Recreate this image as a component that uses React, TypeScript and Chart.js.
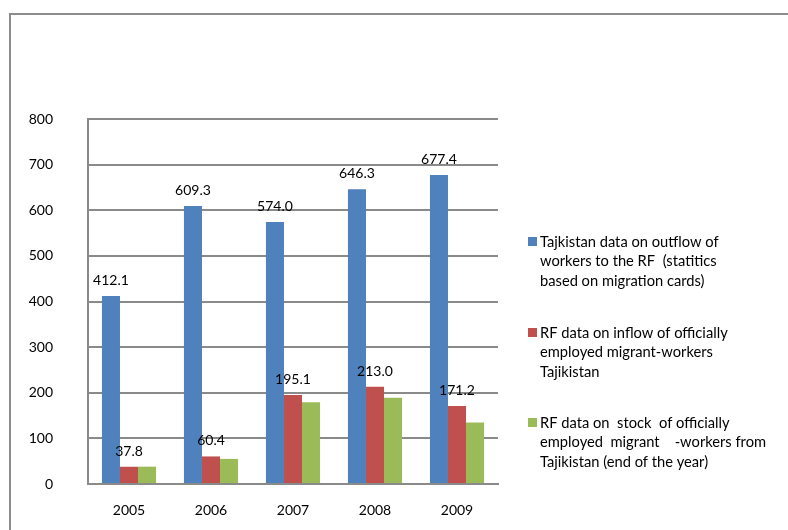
import React, { useEffect, useRef } from "react";
import { Chart, registerables } from "chart.js";

Chart.register(...registerables);

const categories = ["2005", "2006", "2007", "2008", "2009"];
const outflowTJ = [412.1, 609.3, 574.0, 646.3, 677.4];
const inflowRF = [37.8, 60.4, 195.1, 213.0, 171.2];
const stockRF = [38, 55, 179, 189, 135];
const yTicks = [0, 100, 200, 300, 400, 500, 600, 700, 800];

const seriesNames = [
  ["Tajkistan data on outflow of", "workers to the RF  (statitics", "based on migration cards)"],
  ["RF data on inflow of officially", "employed migrant-workers", "Tajikistan"],
  ["RF data on  stock  of officially", "employed  migrant    -workers from", "Tajikistan (end of the year)"],
];
const colors = ["#4F81BD", "#C0504D", "#9BBB59"];

const FONT = "Lato, 'Open Sans', sans-serif";
const GRID = "#8a8a8a";

const borderPlugin = {
  id: "outerBorder",
  beforeDraw(chart: any) {
    const ctx = chart.ctx;
    ctx.save();
    ctx.strokeStyle = "#8c8c8c";
    ctx.lineWidth = 2;
    ctx.strokeRect(10, 14, 900, 700);
    ctx.restore();
  },
};

const labelPlugin = {
  id: "valueLabels",
  afterDatasetsDraw(chart: any) {
    const ctx = chart.ctx;
    ctx.save();
    ctx.font = `14px ${FONT}`;
    ctx.fillStyle = "#000";
    ctx.textAlign = "center";
    ctx.textBaseline = "alphabetic";
    [0, 1].forEach((di) => {
      const meta = chart.getDatasetMeta(di);
      const data = chart.data.datasets[di].data as number[];
      meta.data.forEach((bar: any, i: number) => {
        ctx.fillText(data[i].toFixed(1), bar.x, bar.y - 11);
      });
    });
    ctx.restore();
  },
};

const legendPlugin = {
  id: "sideLegend",
  afterDraw(chart: any) {
    const ctx = chart.ctx;
    ctx.save();
    ctx.font = `14.7px ${FONT}`;
    ctx.fillStyle = "#000";
    ctx.textAlign = "left";
    ctx.textBaseline = "alphabetic";
    const starts = [247, 338, 428];
    seriesNames.forEach((lines, si) => {
      const base = starts[si];
      ctx.fillStyle = colors[si];
      ctx.fillRect(528, base - 10, 9, 9);
      ctx.fillStyle = "#000";
      lines.forEach((ln, li) => {
        ctx.fillText(ln, 540, base + li * 19.3);
      });
    });
    ctx.restore();
  },
};

export default function App() {
  const ref = useRef<HTMLCanvasElement | null>(null);
  useEffect(() => {
    if (!ref.current) return;
    const chart = new Chart(ref.current, {
      type: "bar",
      data: {
        labels: categories,
        datasets: [
          { label: seriesNames[0].join(" "), data: outflowTJ, backgroundColor: colors[0] },
          { label: seriesNames[1].join(" "), data: inflowRF, backgroundColor: colors[1] },
          { label: seriesNames[2].join(" "), data: stockRF, backgroundColor: colors[2] },
        ],
      },
      options: {
        animation: false,
        responsive: false,
        maintainAspectRatio: false,
        devicePixelRatio: 1,
        layout: { padding: { top: 119, right: 290, bottom: 0, left: 0 } },
        datasets: { bar: { categoryPercentage: 0.66, barPercentage: 1.0 } },
        plugins: {
          legend: { display: false },
          tooltip: { enabled: false },
          title: { display: false },
        },
        scales: {
          x: {
            grid: { display: false, drawTicks: false },
            border: { display: true, color: GRID, width: 2 },
            ticks: { color: "#000", font: { family: FONT, size: 14 }, padding: 18 },
            afterFit: (s: any) => { s.height = 46; },
          },
          y: {
            min: 0,
            max: 800,
            afterBuildTicks: (s: any) => { s.ticks = yTicks.map((v) => ({ value: v })); },
            grid: { color: GRID, lineWidth: 2, drawTicks: false },
            border: { display: true, color: GRID, width: 2 },
            ticks: { color: "#000", font: { family: FONT, size: 14 }, padding: 35 },
            afterFit: (s: any) => { s.width = 88; },
          },
        },
      },
      plugins: [borderPlugin, labelPlugin, legendPlugin],
    });
    return () => chart.destroy();
  }, []);
  return (
    <div style={{ position: "fixed", left: 0, top: 0, width: 788, height: 530, background: "#fff" }}>
      <canvas ref={ref} width={788} height={530} style={{ width: 788, height: 530, display: "block" }} />
    </div>
  );
}
